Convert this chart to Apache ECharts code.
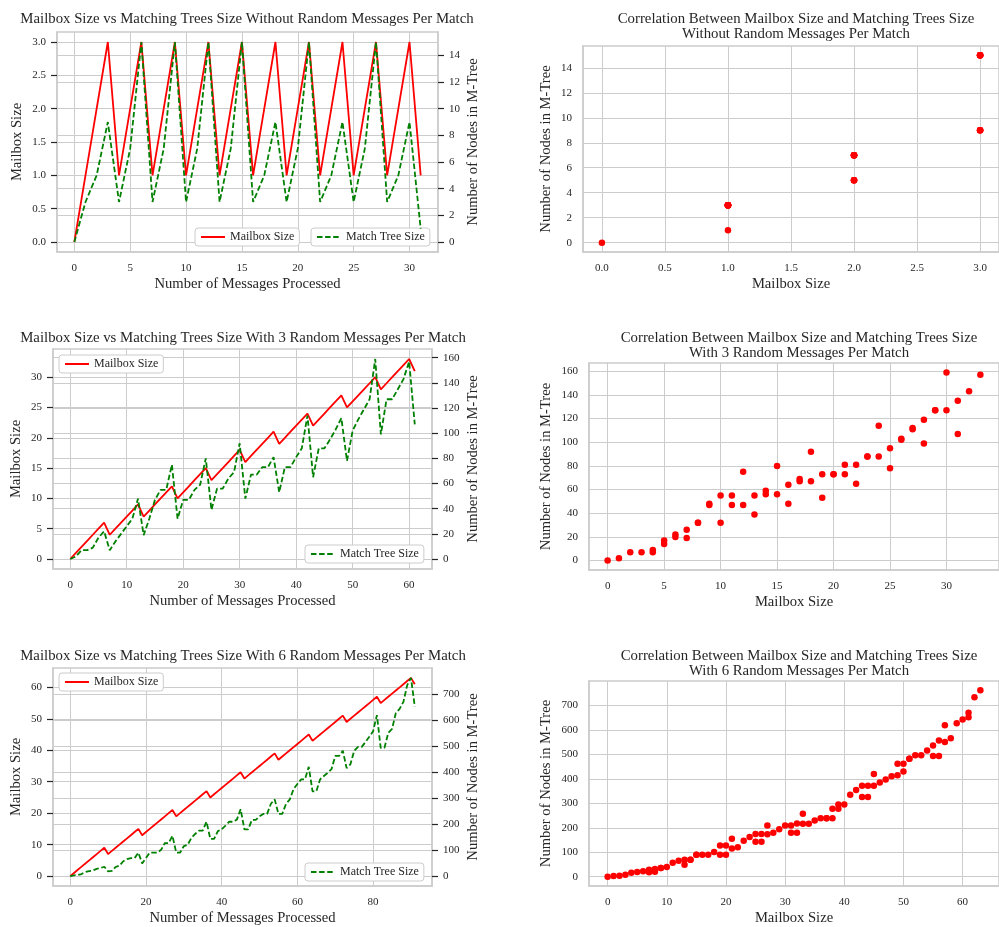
<!DOCTYPE html>
<html>
<head>
<meta charset="utf-8">
<script src="https://cdn.jsdelivr.net/npm/echarts@6/dist/echarts.min.js"></script>
<style>
  html, body { margin: 0; padding: 0; background: #fff; }
  #chart { width: 999px; height: 927px; }
</style>
</head>
<body>
<div id="chart"></div>
<script>
// run without random messages
const mailbox1 = [0,1,2,3,1,2,3,1,2,3,1,2,3,1,2,3,1,2,3,1,2,3,1,2,3,1,2,3,1,2,3,1];
const nodes1 = [0,3,5,9,3,7,15,3,7,15,3,7,15,3,7,15,3,5,9,3,7,15,3,5,9,3,7,15,3,5,9,1];

// run with 3 random messages per match
const mailbox3 = [0,1,2,3,4,5,6,4,5,6,7,8,9,7,8,9,10,11,12,10,11,12,13,14,15,13,14,15,16,17,18,16,17,18,19,20,21,19,20,21,22,23,24,22,23,24,25,26,27,25,26,27,28,29,30,28,29,30,31,32,33,31];
const nodes3 = [0,2,7,7,9,17,22,7,14,20,26,32,48,19,32,47,55,55,75,32,47,47,55,59,80,39,56,56,64,69,92,48,67,67,73,73,81,53,73,73,81,88,114,65,88,88,95,103,112,78,102,111,119,127,159,99,127,127,135,143,157,107];

// run with 6 random messages per match
const mailbox6 = [0,1,2,3,4,5,6,7,8,9,7,8,9,10,11,12,13,14,15,13,14,15,16,17,18,19,20,21,19,20,21,22,23,24,25,26,27,25,26,27,28,29,30,31,32,33,31,32,33,34,35,36,37,38,39,37,38,39,40,41,42,43,44,45,43,44,45,46,47,48,49,50,51,49,50,51,52,53,54,55,56,57,55,56,57,58,59,60,61,62,63,61];
const nodes6 = [0,3,4,8,16,19,22,28,31,36,18,20,35,40,57,65,69,69,90,49,69,90,90,90,101,127,127,155,90,90,115,120,147,162,175,175,209,143,143,173,180,194,209,209,217,257,180,180,216,216,230,239,239,278,295,239,239,278,295,335,354,372,372,420,326,326,372,385,397,411,462,462,482,415,430,482,497,497,516,536,557,619,493,493,551,566,627,643,670,734,762,652];

// tick labels
const ticksX1 = [0,5,10,15,20,25,30];
const ticksMb1 = [0,0.5,1,1.5,2,2.5,3];
const ticksN1 = [0,2,4,6,8,10,12,14];
const ticksX3 = [0,10,20,30,40,50,60];
const ticksMb3 = [0,5,10,15,20,25,30];
const ticksN3 = [0,20,40,60,80,100,120,140,160];
const ticksX6 = [0,20,40,60,80];
const ticksMb6 = [0,10,20,30,40,50,60];
const ticksN6 = [0,100,200,300,400,500,600,700];

const titles = [
  'Mailbox Size vs Matching Trees Size Without Random Messages Per Match',
  'Correlation Between Mailbox Size and Matching Trees Size\nWithout Random Messages Per Match',
  'Mailbox Size vs Matching Trees Size With 3 Random Messages Per Match',
  'Correlation Between Mailbox Size and Matching Trees Size\nWith 3 Random Messages Per Match',
  'Mailbox Size vs Matching Trees Size With 6 Random Messages Per Match',
  'Correlation Between Mailbox Size and Matching Trees Size\nWith 6 Random Messages Per Match'
];

(function () {
  const myChart = echarts.init(document.getElementById('chart'));

  const FONT = 'Liberation Serif';
  const TEXT = '#262626';
  const GRID = '#cccccc';

  // matplotlib style 5% margins
  function pad(arr) {
    const lo = Math.min(...arr), hi = Math.max(...arr), m = (hi - lo) * 0.05;
    return [lo - m, hi + m];
  }
  const idx = arr => arr.map((_, i) => i);

  function axis(gridIndex, name, data, ticks, dec, pos, gap, ticked) {
    const [lo, hi] = pad(data);
    const step = ticks[1] - ticks[0];
    return {
      type: 'value',
      gridIndex: gridIndex,
      position: pos,
      name: name,
      nameLocation: 'middle',
      nameGap: gap,
      nameTextStyle: { color: TEXT, fontFamily: FONT, fontSize: 14.6 },
      min: lo,
      max: hi,
      minInterval: step,
      maxInterval: step,
      axisLine: { show: true, onZero: false, lineStyle: { color: GRID, width: 1.5 } },
      axisTick: {
        show: ticked,
        customValues: ticks,
        length: 6,
        lineStyle: { color: TEXT, width: 1.2 }
      },
      axisLabel: {
        color: TEXT,
        fontFamily: FONT,
        fontSize: 11,
        margin: 11,
        customValues: ticks,
        formatter: v => Math.abs(v / step - Math.round(v / step)) < 1e-6 ? v.toFixed(dec) : ''
      },
      splitLine: { lineStyle: { color: GRID, width: 1 } }
    };
  }

  const xName = 'Number of Messages Processed';
  const mbName = 'Mailbox Size';
  const nName = 'Number of Nodes in M-Tree';

  const grid = [
    { left: 57, top: 32, width: 381, height: 220 },
    { left: 583, top: 46, width: 426, height: 206 },
    { left: 53, top: 349, width: 379, height: 220 },
    { left: 589, top: 363, width: 420, height: 207 },
    { left: 53, top: 668, width: 379, height: 220 },
    { left: 589, top: 681, width: 420, height: 207 }
  ].map(g => Object.assign(g, { show: true, borderColor: GRID, borderWidth: 1.5, backgroundColor: 'transparent' }));

  const xAxis = [
    axis(0, xName, idx(mailbox1), ticksX1, 0, 'bottom', 25, false),
    axis(1, mbName, mailbox1, ticksMb1, 1, 'bottom', 25, false),
    axis(2, xName, idx(mailbox3), ticksX3, 0, 'bottom', 25, false),
    axis(3, mbName, mailbox3, ticksX1, 0, 'bottom', 25, false),
    axis(4, xName, idx(mailbox6), ticksX6, 0, 'bottom', 25, false),
    axis(5, mbName, mailbox6, ticksMb6, 0, 'bottom', 25, false)
  ];

  const yAxis = [
    axis(0, mbName, mailbox1, ticksMb1, 1, 'left', 32, true),
    axis(0, nName, nodes1, ticksN1, 0, 'right', 28, true),
    axis(1, nName, nodes1, ticksN1, 0, 'left', 29, false),
    axis(2, mbName, mailbox3, ticksMb3, 0, 'left', 29, true),
    axis(2, nName, nodes3, ticksN3, 0, 'right', 34, true),
    axis(3, nName, nodes3, ticksN3, 0, 'left', 35, false),
    axis(4, mbName, mailbox6, ticksMb6, 0, 'left', 29, true),
    axis(4, nName, nodes6, ticksN6, 0, 'right', 34, true),
    axis(5, nName, nodes6, ticksN6, 0, 'left', 35, false)
  ];

  const titleX = [247, 796, 243, 799, 243, 799];
  const titleY = [12, 12, 331, 331, 649, 649];
  const title = titles.map((t, i) => ({
    text: t,
    left: titleX[i],
    top: titleY[i],
    textAlign: 'center',
    padding: 0,
    textStyle: { color: TEXT, fontFamily: FONT, fontSize: 14.8, fontWeight: 'normal', lineHeight: 15 }
  }));

  function mbLine(mb, xi, yi) {
    return {
      name: 'Mailbox Size', type: 'line', xAxisIndex: xi, yAxisIndex: yi,
      symbol: 'none', z: 2,
      lineStyle: { color: '#ff0000', width: 1.8 },
      itemStyle: { color: '#ff0000' },
      data: mb.map((v, i) => [i, v])
    };
  }
  function treeLine(nodes, xi, yi) {
    return {
      name: 'Match Tree Size', type: 'line', xAxisIndex: xi, yAxisIndex: yi,
      symbol: 'none', z: 4,
      lineStyle: { color: '#008000', width: 1.8, type: [5.5, 2.6] },
      itemStyle: { color: '#008000' },
      data: nodes.map((v, i) => [i, v])
    };
  }
  function corr(mb, nodes, xi, yi) {
    return {
      type: 'scatter', xAxisIndex: xi, yAxisIndex: yi,
      symbolSize: 6.5,
      itemStyle: { color: '#ff0000', opacity: 1 },
      data: mb.map((v, i) => [v, nodes[i]])
    };
  }

  const legendBase = {
    orient: 'horizontal',
    selectedMode: false,
    backgroundColor: '#ffffff',
    borderColor: GRID,
    borderWidth: 1,
    borderRadius: 3,
    padding: [3, 5, 3, 5],
    itemWidth: 24,
    itemHeight: 10,
    itemGap: 5,
    itemStyle: { opacity: 0 },
    textStyle: { color: TEXT, fontFamily: FONT, fontSize: 12 }
  };
  const legend = [
    [['Mailbox Size'], 195, 228],
    [['Match Tree Size'], 311, 228],
    [['Mailbox Size'], 59, 355],
    [['Match Tree Size'], 305, 545],
    [['Mailbox Size'], 59, 673],
    [['Match Tree Size'], 305, 863]
  ].map(([d, l, t]) => Object.assign({}, legendBase, { data: d, left: l, top: t }));

  const option = {
    animation: false,
    backgroundColor: '#ffffff',
    title: title,
    grid: grid,
    legend: legend,
    xAxis: xAxis,
    yAxis: yAxis,
    series: [
      mbLine(mailbox1, 0, 0),
      treeLine(nodes1, 0, 1),
      corr(mailbox1, nodes1, 1, 2),
      mbLine(mailbox3, 2, 3),
      treeLine(nodes3, 2, 4),
      corr(mailbox3, nodes3, 3, 5),
      mbLine(mailbox6, 4, 6),
      treeLine(nodes6, 4, 7),
      corr(mailbox6, nodes6, 5, 8)
    ]
  };

  myChart.setOption(option);
})();
</script>
</body>
</html>
